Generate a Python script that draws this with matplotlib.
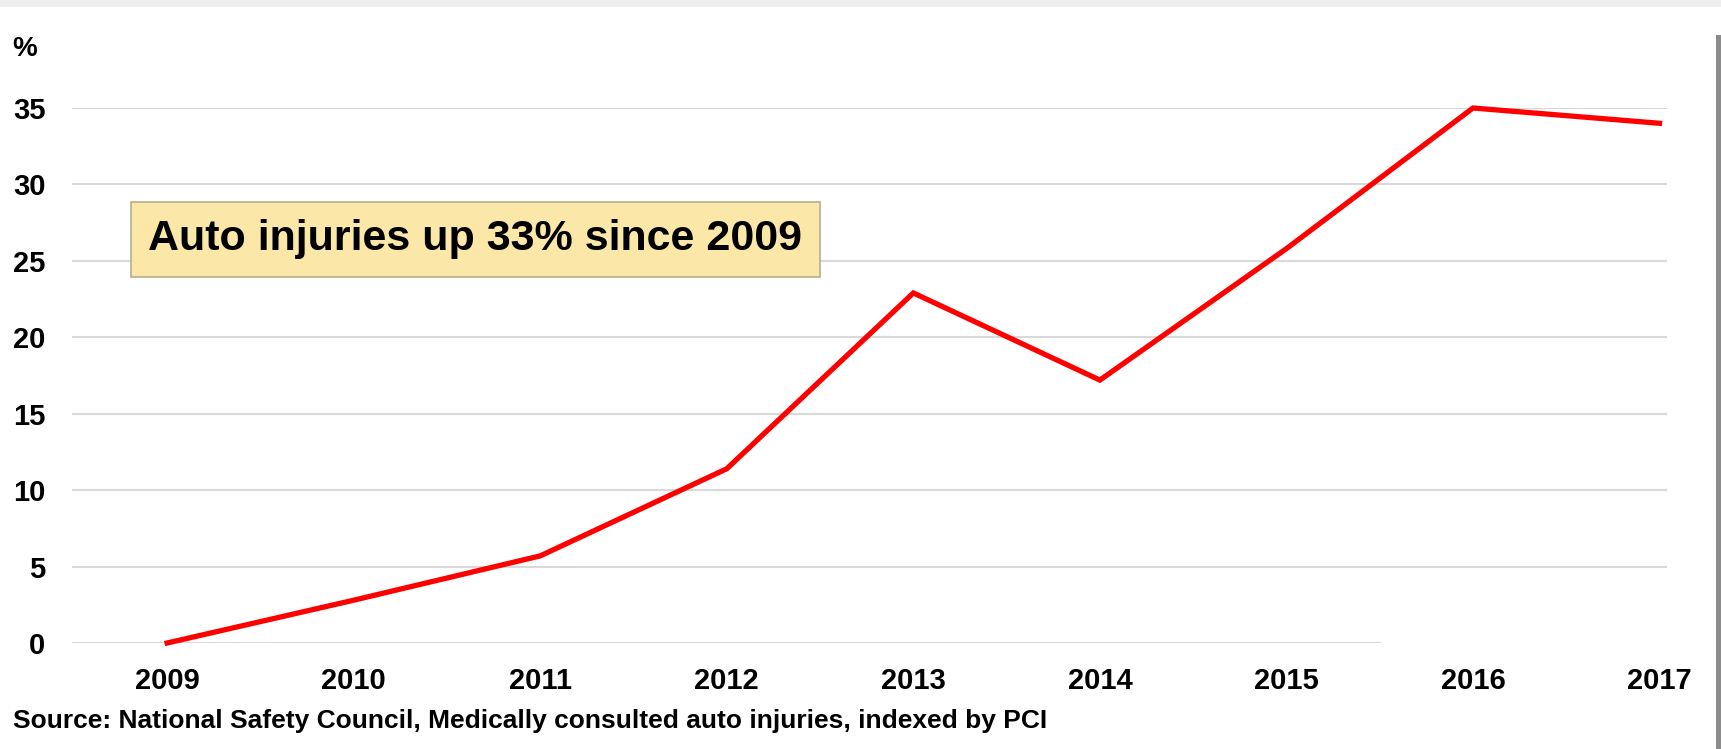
import matplotlib.pyplot as plt
from matplotlib.patches import Rectangle

years = [2009, 2010, 2011, 2012, 2013, 2014, 2015, 2016, 2017]
injuries_pct = [0, 2.8, 5.7, 11.4, 22.9, 17.2, 25.8, 35.0, 34.0]
y_ticks = [0, 5, 10, 15, 20, 25, 30, 35]

plt.rcParams['font.family'] = ['Liberation Sans', 'DejaVu Sans']
plt.rcParams['font.weight'] = 'bold'

W, H = 1721, 749
fig = plt.figure(figsize=(W / 100, H / 100), dpi=100)
ax = fig.add_axes([72 / W, (H - 643) / H, (1667 - 72) / W, (643 - 108) / H])

ax.plot(years, injuries_pct, color='#ff0000', lw=3.8, solid_joinstyle='miter',
        clip_on=False, zorder=3)

ax.set_xlim(2008.49, 2017.04)
ax.set_ylim(0, 35)

# gridlines; the zero line stops short in the original
for t in y_ticks:
    xmax = 1.0 if t > 0 else (2015.5 - 2008.49) / (2017.04 - 2008.49)
    ax.axhline(t, xmin=0, xmax=xmax, color='#d9d9d9', lw=1.5, zorder=1)

ax.set_yticks(y_ticks)
ax.set_xticks(years)
ax.tick_params(axis='y', length=0, pad=19, labelsize=21)
ax.tick_params(axis='x', length=0, pad=17, labelsize=21)
for lab in ax.get_xticklabels() + ax.get_yticklabels():
    lab.set_fontweight('bold')
for s in ax.spines.values():
    s.set_visible(False)

fig.text(12 / W, 1 - 49 / H, '%', fontsize=20, fontweight='bold', va='center', ha='left')

ax.text(2008.90, 26.4, 'Auto injuries up 33% since 2009', fontsize=31, fontweight='bold',
        va='center', ha='left', zorder=4,
        bbox=dict(boxstyle='square,pad=0.4', facecolor='#fbe8a8', edgecolor='#b8ae8e', lw=1.2))

fig.text(13 / W, 1 - 721 / H,
         'Source: National Safety Council, Medically consulted auto injuries, indexed by PCI',
         fontsize=19, fontweight='bold', va='center', ha='left')

# slide frame: light band on top and grey bar on the right
fig.patches.append(Rectangle((0, 1 - 7 / H), 1, 7 / H, transform=fig.transFigure,
                             facecolor='#eeeeee', edgecolor='none'))
fig.patches.append(Rectangle((1 - 5 / W, 0), 5 / W, 1 - 35 / H, transform=fig.transFigure,
                             facecolor='#8c8c8c', edgecolor='none'))

fig.savefig('out.png', dpi=100)
